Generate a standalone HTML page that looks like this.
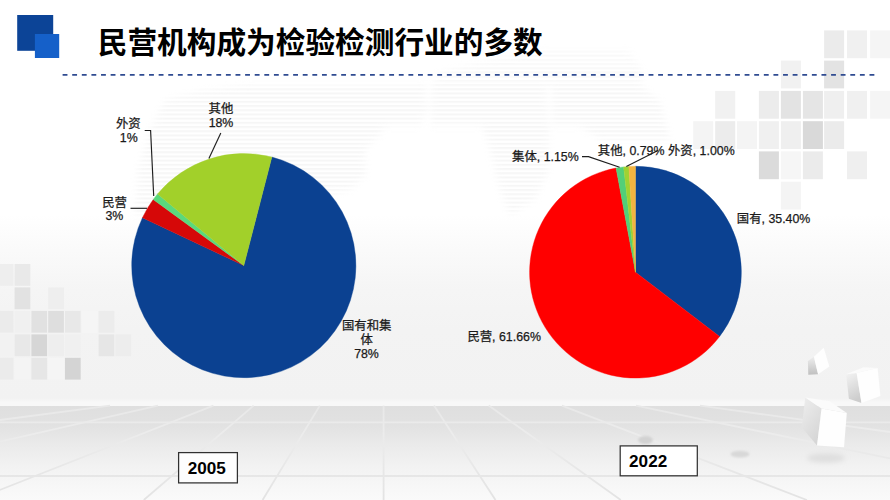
<!DOCTYPE html>
<html lang="zh"><head><meta charset="utf-8"><title>民营机构成为检验检测行业的多数</title>
<style>
html,body{margin:0;padding:0;}
body{width:890px;height:500px;overflow:hidden;position:relative;font-family:"Liberation Sans",sans-serif;background:#fff;}
#bg{position:absolute;left:0;top:0;width:890px;height:405.6px;background:linear-gradient(to bottom,#ffffff 0px,#ffffff 215px,#fafafa 250px,#f5f5f5 290px,#f3f3f3 330px,#f2f2f2 398px,#f8f8f8 402px,#f8f8f8 405.6px);}
#floor{position:absolute;left:0;top:405.6px;width:890px;height:94.4px;background:linear-gradient(to bottom,#dfdfdf 0,#e2e2e2 20px,#ebebeb 40px,#f2f2f2 60px,#f7f7f7 80px,#fafafa 94px);}
svg{position:absolute;left:0;top:0;}
.sr{position:absolute;color:transparent;font-size:12px;white-space:nowrap;overflow:hidden;pointer-events:none;}
</style></head>
<body>
<div id="bg"></div><div id="floor"></div>
<svg width="890" height="500" viewBox="0 0 890 500">

<defs>
<pattern id="stripes" x="0" y="0" width="20" height="4.2" patternUnits="userSpaceOnUse"><rect x="0" y="0" width="20" height="2.1" fill="#efefef"/></pattern>
<linearGradient id="flg" gradientUnits="userSpaceOnUse" x1="0" y1="405" x2="0" y2="500"><stop offset="0" stop-color="#e8e8e8"/><stop offset="0.3" stop-color="#ececec"/><stop offset="0.55" stop-color="#e9e9e9"/><stop offset="1" stop-color="#e3e3e3"/></linearGradient>
<filter id="b1" x="-20%" y="-20%" width="140%" height="140%"><feGaussianBlur stdDeviation="1.2"/></filter>
<filter id="b3" x="-30%" y="-50%" width="160%" height="200%"><feGaussianBlur stdDeviation="2.5"/></filter>
<filter id="b3m" filterUnits="userSpaceOnUse" x="100" y="35" width="620" height="255"><feGaussianBlur stdDeviation="3"/></filter>
<filter id="b05" x="-10%" y="-10%" width="120%" height="120%"><feGaussianBlur stdDeviation="0.6"/></filter>
<linearGradient id="shade1" x1="0" y1="0" x2="0" y2="1"><stop offset="0" stop-color="#eeeeee"/><stop offset="1" stop-color="#c0c0c0"/></linearGradient>
<linearGradient id="shade2" x1="0" y1="0" x2="0.3" y2="1"><stop offset="0" stop-color="#f3f3f3"/><stop offset="1" stop-color="#cdcdcd"/></linearGradient>
<linearGradient id="shade3" x1="0" y1="0" x2="0.6" y2="1"><stop offset="0" stop-color="#eeeeee"/><stop offset="1" stop-color="#d6d6d6"/></linearGradient>
</defs>
<mask id="mapmask" maskUnits="userSpaceOnUse" x="100" y="35" width="620" height="255"><g fill="#fff" filter="url(#b3m)">
<path d="M165 100L200 91L250 85H425L428 110L420 126H385L380 135L365 150L366 175L350 190L300 200L135 215L138 170L148 135Z"/>
<path d="M431 86H546L549 126V170L535 200L510 215L500 190L490 150L482 126H431Z"/>
<path d="M552 86H640L660 100L670 140H600L580 126H552Z"/>
<path d="M440 72L480 62L545 50H628L642 70V88H431Z" opacity="0.7"/>
</g></mask>
<rect id="map" x="100" y="40" width="620" height="240" fill="url(#stripes)" mask="url(#mapmask)" opacity="0.5"/>
<g id="floorlines" stroke="url(#flg)" stroke-width="1.8" fill="none"><path d="M157.9 405.6L0 441.6"/><path d="M213.4 405.6L-25.6 500"/><path d="M253.6 405.6L143.8 500"/><path d="M319.8 405.6L262.6 500"/><path d="M383.6 405.6L383.6 500"/><path d="M434 405.6L495.5 500"/><path d="M488.7 405.6L620.8 500"/><path d="M561.9 405.6L806.9 500"/><path d="M636 405.6L890 458.4"/><path d="M700 405.6L890 432"/><path d="M110 405.6L0 420"/><path d="M0 422.3L890 422.3"/><path d="M0 445.6L890 445.6"/><path d="M0 476L890 476"/></g>

<g id="cubes">
<ellipse cx="826" cy="458" rx="19" ry="4.5" fill="#dedede" filter="url(#b3)"/>
<ellipse cx="645.5" cy="440" rx="7.5" ry="4" fill="#d2d2d2" filter="url(#b1)"/>
<ellipse cx="740" cy="454.2" rx="9.5" ry="3.4" fill="#d8d8d8" filter="url(#b1)"/>
<g filter="url(#b05)">
<path d="M807.9 361L813.9 356.8L818.1 374.3L808.3 374.7Z" fill="url(#shade1)"/>
<path d="M813.9 356.8L823.7 347.7L829.3 366.6L818.1 374.3Z" fill="#fefefe"/>
<path d="M846.1 374.3L856.6 372.9L861.5 403L848.9 398.8Z" fill="url(#shade2)"/>
<path d="M856.6 372.9L877.6 368L880.4 396L861.5 403Z" fill="#fefefe"/>
<path d="M846.1 374.3L863.6 367.3L877.6 368L856.6 372.9Z" fill="#fbfbfb"/>
<path d="M805.3 397.6L821.5 408.4L817 445.4L801.7 427.3Z" fill="url(#shade3)"/>
<path d="M821.5 408.4L846.8 412.9L844 447.2L817 445.4Z" fill="#fefefe"/>
<path d="M805.3 397.6L829.6 401.2L846.8 412.9L821.5 408.4Z" fill="#fbfbfb"/>
</g>
</g>
<g id="sqR"><rect x="824.1" y="30.4" width="20.0" height="27.8" fill="#ebebeb"/><rect x="847.0" y="30.4" width="20.0" height="27.8" fill="#f0f0f0"/><rect x="870.1" y="30.4" width="20.0" height="27.8" fill="#f5f5f5"/><rect x="780.9" y="60.6" width="20.0" height="27.8" fill="#f1f1f1"/><rect x="824.1" y="60.6" width="20.0" height="27.8" fill="#e3e3e3"/><rect x="715.2" y="90.9" width="20.0" height="27.8" fill="#f1f1f1"/><rect x="758.9" y="90.9" width="20.0" height="27.8" fill="#ececec"/><rect x="780.9" y="90.9" width="20.0" height="27.8" fill="#e3e3e3"/><rect x="802.9" y="90.9" width="20.0" height="27.8" fill="#e5e5e5"/><rect x="824.1" y="90.9" width="20.0" height="27.8" fill="#efefef"/><rect x="847.0" y="90.9" width="20.0" height="27.8" fill="#f0f0f0"/><rect x="870.1" y="90.9" width="20.0" height="27.8" fill="#f5f5f5"/><rect x="693.2" y="121.2" width="20.0" height="27.8" fill="#f4f4f4"/><rect x="715.2" y="121.2" width="20.0" height="27.8" fill="#ececec"/><rect x="737.0" y="121.2" width="20.0" height="27.8" fill="#f4f4f4"/><rect x="758.9" y="121.2" width="20.0" height="27.8" fill="#f0f0f0"/><rect x="780.9" y="121.2" width="20.0" height="27.8" fill="#efefef"/><rect x="802.9" y="121.2" width="20.0" height="27.8" fill="#d9d9d9"/><rect x="824.1" y="121.2" width="20.0" height="27.8" fill="#ebebeb"/><rect x="758.9" y="151.4" width="20.0" height="27.8" fill="#dbdbdb"/><rect x="780.9" y="151.4" width="20.0" height="27.8" fill="#f6f6f6"/><rect x="802.9" y="151.4" width="20.0" height="27.8" fill="#ebebeb"/><rect x="847.0" y="151.4" width="20.0" height="27.8" fill="#efefef"/><rect x="780.9" y="181.7" width="20.0" height="27.8" fill="#f4f4f4"/></g>
<g id="sqL"><rect x="-2.2" y="264.0" width="15.7" height="21.8" fill="#eeeeee"/><rect x="14.6" y="264.0" width="15.7" height="21.8" fill="#e9e9e9"/><rect x="14.6" y="287.4" width="15.7" height="21.8" fill="#e2e2e2"/><rect x="48.2" y="287.4" width="15.7" height="21.8" fill="#eeeeee"/><rect x="-2.2" y="310.9" width="15.7" height="21.8" fill="#ebebeb"/><rect x="14.6" y="310.9" width="15.7" height="21.8" fill="#f0f0f0"/><rect x="31.4" y="310.9" width="15.7" height="21.8" fill="#e1e1e1"/><rect x="48.2" y="310.9" width="15.7" height="21.8" fill="#dedede"/><rect x="65.0" y="310.9" width="15.7" height="21.8" fill="#e8e8e8"/><rect x="81.8" y="310.9" width="15.7" height="21.8" fill="#f5f5f5"/><rect x="98.6" y="310.9" width="15.7" height="21.8" fill="#ececec"/><rect x="-2.2" y="334.4" width="15.7" height="21.8" fill="#f2f2f2"/><rect x="14.6" y="334.4" width="15.7" height="21.8" fill="#e8e8e8"/><rect x="31.4" y="334.4" width="15.7" height="21.8" fill="#d6d6d6"/><rect x="48.2" y="334.4" width="15.7" height="21.8" fill="#eeeeee"/><rect x="65.0" y="334.4" width="15.7" height="21.8" fill="#f0f0f0"/><rect x="98.6" y="334.4" width="15.7" height="21.8" fill="#e6e6e6"/><rect x="115.4" y="334.4" width="15.7" height="21.8" fill="#ededed"/><rect x="-2.2" y="357.8" width="15.7" height="21.8" fill="#ebebeb"/><rect x="14.6" y="357.8" width="15.7" height="21.8" fill="#f4f4f4"/><rect x="31.4" y="357.8" width="15.7" height="21.8" fill="#e6e6e6"/><rect x="48.2" y="357.8" width="15.7" height="21.8" fill="#f5f5f5"/><rect x="65.0" y="357.8" width="15.7" height="21.8" fill="#d4d4d4"/></g>
<g id="logo"><rect x="17.2" y="15" width="36" height="35.8" fill="#0c4497"/><rect x="34.9" y="34" width="24.3" height="24" fill="#1560c9"/></g>
<path d="M62.6 74.9H875" stroke="#2f4b91" stroke-width="1.9" stroke-dasharray="4.85 4.756" fill="none"/>
<g id="title" aria-label="民营机构成为检验检测行业的多数"><text x="97.75" y="52.5" font-family="&quot;Liberation Sans&quot;, &quot;Noto Sans CJK SC&quot;, sans-serif" font-size="29.67" font-weight="bold" fill="#000" textLength="445" lengthAdjust="spacingAndGlyphs">民营机构成为检验检测行业的多数</text></g>
<g id="pie1"><path d="M243.8 265.6L271.87 157.07A112.1 112.1 0 1 1 142.45 217.69Z" fill="#0b4191" stroke="#0b4191" stroke-width="0.4"/><path d="M243.8 265.6L142.45 217.69A112.1 112.1 0 0 1 153.22 199.55Z" fill="#d60808" stroke="#d60808" stroke-width="0.4"/><path d="M243.8 265.6L153.22 199.55A112.1 112.1 0 0 1 157.55 193.99Z" fill="#5ad97c" stroke="#5ad97c" stroke-width="0.4"/><path d="M243.8 265.6L157.55 193.99A112.1 112.1 0 0 1 271.87 157.07Z" fill="#a2d02a" stroke="#a2d02a" stroke-width="0.4"/></g>
<g id="pie2"><path d="M635.5 272.15L635.50 166.25A105.9 105.9 0 0 1 719.58 336.53Z" fill="#0b4191" stroke="#0b4191" stroke-width="0.4"/><path d="M635.5 272.15L719.58 336.53A105.9 105.9 0 1 1 616.05 168.05Z" fill="#ff0000" stroke="#ff0000" stroke-width="0.4"/><path d="M635.5 272.15L616.05 168.05A105.9 105.9 0 0 1 623.61 166.92Z" fill="#52cf78" stroke="#52cf78" stroke-width="0.4"/><path d="M635.5 272.15L623.61 166.92A105.9 105.9 0 0 1 628.85 166.46Z" fill="#9fd231" stroke="#9fd231" stroke-width="0.4"/><path d="M635.5 272.15L628.85 166.46A105.9 105.9 0 0 1 635.50 166.25Z" fill="#f2b441" stroke="#f2b441" stroke-width="0.4"/></g>
<g fill="none" stroke="#1e1e1e" stroke-width="1.15">
<path d="M144.7 130.5H150.6L153.7 196"/>
<path d="M130.5 208.3H147"/>
<path d="M220.8 132.9L208.9 158.4"/>
<path d="M582 156.6H588.5L619.6 167.2"/>
<path d="M658 150.6L626.3 166.6"/>
</g>
<g id="labels" font-family="&quot;Liberation Sans&quot;, &quot;Noto Sans CJK SC&quot;, sans-serif" font-size="12.36" fill="#1a1a1a" stroke="#1a1a1a" stroke-width="0.25">
<text x="341.98" y="329.6">国有和集</text>
<text x="360.52" y="343.9">体</text>
<text x="354.13" y="358.1">78%</text>
<text x="115.94" y="128.1">外资</text>
<text x="119.87" y="142.1">1%</text>
<text x="102.14" y="206.8">民营</text>
<text x="105.47" y="220.1">3%</text>
<text x="208.54" y="112.8">其他</text>
<text x="208.63" y="126.9">18%</text>
<text x="512.1" y="161.2">集体, 1.15%</text>
<text x="597.8" y="154.85">其他, 0.79%</text>
<text x="668" y="154.85">外资, 1.00%</text>
<text x="736.8" y="223.1">国有, 35.40%</text>
<text x="467.4" y="340.6">民营, 61.66%</text>
</g>
<g id="years">
<rect x="178.6" y="452.6" width="58.8" height="30.3" fill="#fdfdfd" stroke="#303030" stroke-width="1.24"/>
<rect x="620.2" y="445.9" width="77.1" height="29.9" fill="#ffffff" stroke="#303030" stroke-width="1.24"/>
<text x="187.8" y="473.5" font-family="&quot;Liberation Sans&quot;, sans-serif" font-size="17.14" font-weight="bold" fill="#000">2005</text>
<text x="629.1" y="466.6" font-family="&quot;Liberation Sans&quot;, sans-serif" font-size="17.14" font-weight="bold" fill="#000">2022</text>
</g>
</svg>
<div class="sr" style="left:187px;top:458px;font-size:17px;font-weight:bold;">2005</div>
<div class="sr" style="left:628px;top:451px;font-size:17px;font-weight:bold;">2022</div>
<div class="sr" style="left:98px;top:24px;font-size:29.67px;line-height:34px;width:446px;height:34px;">民营机构成为检验检测行业的多数</div>
<div class="sr" style="left:342px;top:318px;width:50px;height:42px;white-space:normal;text-align:center;">国有和集体 78%</div>
<div class="sr" style="left:116px;top:116px;width:26px;height:28px;white-space:normal;">外资 1%</div>
<div class="sr" style="left:102px;top:195px;width:26px;height:28px;white-space:normal;">民营 3%</div>
<div class="sr" style="left:208px;top:101px;width:26px;height:28px;white-space:normal;">其他 18%</div>
<div class="sr" style="left:512px;top:149px;width:67px;height:14px;">集体, 1.15%</div>
<div class="sr" style="left:598px;top:143px;width:67px;height:14px;">其他, 0.79%</div>
<div class="sr" style="left:668px;top:143px;width:67px;height:14px;">外资, 1.00%</div>
<div class="sr" style="left:737px;top:212px;width:73px;height:14px;">国有, 35.40%</div>
<div class="sr" style="left:467px;top:329px;width:73px;height:14px;">民营, 61.66%</div>
</body></html>
